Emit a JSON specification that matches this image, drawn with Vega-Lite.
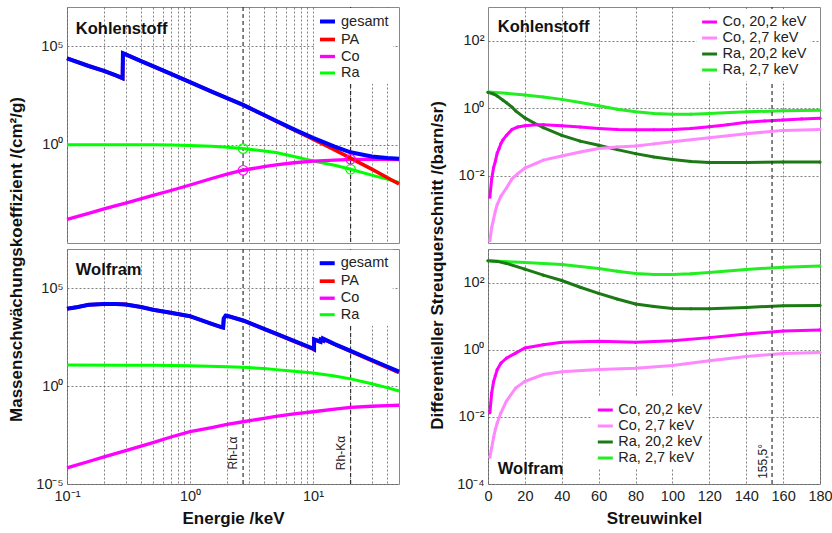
{
"$schema":"https://vega.github.io/schema/vega-lite/v6.json",
"padding":{"left":6,"top":5,"right":0,"bottom":4},
"config":{
 "font":"Liberation Sans",
 "view":{"stroke":"#888888","strokeWidth":1},
 "axis":{"grid":true,"gridColor":"#555555","gridDash":[2,2],"gridOpacity":0.75,"gridWidth":1,"domain":false,"ticks":false,"labelFontSize":14.5,"labelColor":"#222222","labelPadding":5,"labelFlush":false,"labelOverlap":false,"titleFontSize":17,"titleFontWeight":"bold","titleColor":"#111111","titlePadding":8},
 "axisX":{"labelOverlap":false},
 "legend":{"orient":"none","title":null,"symbolType":"stroke","symbolStrokeWidth":3,"symbolSize":225,"labelFontSize":14.5,"labelColor":"#222222","rowPadding":0,"labelOffset":4,"padding":4,"fillColor":"white"}
},
"datasets":{
 "rh":[{"E":2.7,"label":"Rh-Lα"},{"E":20.2,"label":"Rh-Kα"}],
 "ang":[{"t":154,"label":"155,5°"}],
 "carbonMarks":[{"E":2.7,"mu":0.631,"s":"Ra"},{"E":2.7,"mu":0.0501,"s":"Co"},{"E":20.2,"mu":0.056,"s":"Ra"},{"E":20.2,"mu":0.18,"s":"Co"}],
 "carbonMu":[
  {"E":0.1,"mu":1.0,"s":"Ra"},{"E":0.3,"mu":1.0,"s":"Ra"},{"E":0.5,"mu":0.977,"s":"Ra"},{"E":0.7,"mu":0.955,"s":"Ra"},{"E":1,"mu":0.912,"s":"Ra"},{"E":1.5,"mu":0.832,"s":"Ra"},{"E":2,"mu":0.741,"s":"Ra"},{"E":2.7,"mu":0.631,"s":"Ra"},{"E":3,"mu":0.589,"s":"Ra"},{"E":4,"mu":0.479,"s":"Ra"},{"E":5,"mu":0.398,"s":"Ra"},{"E":7,"mu":0.251,"s":"Ra"},{"E":10,"mu":0.148,"s":"Ra"},{"E":15,"mu":0.089,"s":"Ra"},{"E":20.2,"mu":0.056,"s":"Ra"},{"E":30,"mu":0.0282,"s":"Ra"},{"E":40,"mu":0.0178,"s":"Ra"},{"E":50,"mu":0.012,"s":"Ra"},
  {"E":0.1,"mu":0.000158,"s":"Co"},{"E":0.15,"mu":0.000324,"s":"Co"},{"E":0.2,"mu":0.000537,"s":"Co"},{"E":0.25,"mu":0.000794,"s":"Co"},{"E":0.3,"mu":0.00107,"s":"Co"},{"E":0.5,"mu":0.00263,"s":"Co"},{"E":0.7,"mu":0.00468,"s":"Co"},{"E":1,"mu":0.00891,"s":"Co"},{"E":1.5,"mu":0.0191,"s":"Co"},{"E":2,"mu":0.0316,"s":"Co"},{"E":2.7,"mu":0.0501,"s":"Co"},{"E":3,"mu":0.0562,"s":"Co"},{"E":4,"mu":0.0759,"s":"Co"},{"E":5,"mu":0.0933,"s":"Co"},{"E":7,"mu":0.12,"s":"Co"},{"E":10,"mu":0.145,"s":"Co"},{"E":15,"mu":0.165,"s":"Co"},{"E":20.2,"mu":0.18,"s":"Co"},{"E":30,"mu":0.18,"s":"Co"},{"E":40,"mu":0.178,"s":"Co"},{"E":50,"mu":0.176,"s":"Co"},
  {"E":0.1,"mu":24500,"s":"PA"},{"E":0.15,"mu":10000,"s":"PA"},{"E":0.2,"mu":5620,"s":"PA"},{"E":0.25,"mu":3310,"s":"PA"},{"E":0.283,"mu":2400,"s":"PA"},{"E":0.285,"mu":44700,"s":"PA"},{"E":0.3,"mu":38900,"s":"PA"},{"E":0.4,"mu":17800,"s":"PA"},{"E":0.5,"mu":9770,"s":"PA"},{"E":0.7,"mu":3980,"s":"PA"},{"E":1,"mu":1510,"s":"PA"},{"E":1.5,"mu":501,"s":"PA"},{"E":2,"mu":234,"s":"PA"},{"E":2.7,"mu":105,"s":"PA"},{"E":3,"mu":75.9,"s":"PA"},{"E":4,"mu":31.6,"s":"PA"},{"E":5,"mu":15.8,"s":"PA"},{"E":7,"mu":5.62,"s":"PA"},{"E":10,"mu":1.91,"s":"PA"},{"E":15,"mu":0.55,"s":"PA"},{"E":20.2,"mu":0.209,"s":"PA"},{"E":30,"mu":0.0575,"s":"PA"},{"E":40,"mu":0.0214,"s":"PA"},{"E":50,"mu":0.01,"s":"PA"},
  {"E":0.1,"mu":24500,"s":"gesamt"},{"E":0.15,"mu":10000,"s":"gesamt"},{"E":0.2,"mu":5620,"s":"gesamt"},{"E":0.25,"mu":3310,"s":"gesamt"},{"E":0.283,"mu":2400,"s":"gesamt"},{"E":0.285,"mu":44700,"s":"gesamt"},{"E":0.3,"mu":38900,"s":"gesamt"},{"E":0.4,"mu":17800,"s":"gesamt"},{"E":0.5,"mu":9770,"s":"gesamt"},{"E":0.7,"mu":3980,"s":"gesamt"},{"E":1,"mu":1510,"s":"gesamt"},{"E":1.5,"mu":502,"s":"gesamt"},{"E":2,"mu":235,"s":"gesamt"},{"E":2.7,"mu":105.7,"s":"gesamt"},{"E":3,"mu":76.6,"s":"gesamt"},{"E":4,"mu":32.2,"s":"gesamt"},{"E":5,"mu":16.3,"s":"gesamt"},{"E":7,"mu":6.0,"s":"gesamt"},{"E":10,"mu":2.2,"s":"gesamt"},{"E":15,"mu":0.79,"s":"gesamt"},{"E":20.2,"mu":0.41,"s":"gesamt"},{"E":30,"mu":0.25,"s":"gesamt"},{"E":40,"mu":0.21,"s":"gesamt"},{"E":50,"mu":0.19,"s":"gesamt"}
 ],
 "tungstenMu":[
  {"E":0.1,"mu":12.0,"s":"Ra"},{"E":0.3,"mu":11.7,"s":"Ra"},{"E":0.5,"mu":11.5,"s":"Ra"},{"E":1,"mu":11.0,"s":"Ra"},{"E":2,"mu":9.77,"s":"Ra"},{"E":2.7,"mu":9.12,"s":"Ra"},{"E":4,"mu":7.94,"s":"Ra"},{"E":5,"mu":6.92,"s":"Ra"},{"E":7,"mu":5.75,"s":"Ra"},{"E":10,"mu":4.68,"s":"Ra"},{"E":15,"mu":3.31,"s":"Ra"},{"E":20.2,"mu":2.34,"s":"Ra"},{"E":30,"mu":1.32,"s":"Ra"},{"E":40,"mu":0.83,"s":"Ra"},{"E":50,"mu":0.56,"s":"Ra"},
  {"E":0.1,"mu":0.000066,"s":"Co"},{"E":0.15,"mu":0.000141,"s":"Co"},{"E":0.2,"mu":0.00024,"s":"Co"},{"E":0.3,"mu":0.000501,"s":"Co"},{"E":0.5,"mu":0.00129,"s":"Co"},{"E":0.7,"mu":0.00251,"s":"Co"},{"E":1,"mu":0.00468,"s":"Co"},{"E":1.5,"mu":0.0076,"s":"Co"},{"E":2,"mu":0.011,"s":"Co"},{"E":2.7,"mu":0.0151,"s":"Co"},{"E":4,"mu":0.0224,"s":"Co"},{"E":5,"mu":0.0282,"s":"Co"},{"E":7,"mu":0.038,"s":"Co"},{"E":10,"mu":0.049,"s":"Co"},{"E":15,"mu":0.066,"s":"Co"},{"E":20.2,"mu":0.081,"s":"Co"},{"E":30,"mu":0.093,"s":"Co"},{"E":40,"mu":0.1,"s":"Co"},{"E":50,"mu":0.105,"s":"Co"},
  {"E":0.1,"mu":8900,"s":"PA"},{"E":0.12,"mu":10700,"s":"PA"},{"E":0.15,"mu":14110,"s":"PA"},{"E":0.2,"mu":15470,"s":"PA"},{"E":0.25,"mu":15470,"s":"PA"},{"E":0.3,"mu":14780,"s":"PA"},{"E":0.4,"mu":10950,"s":"PA"},{"E":0.5,"mu":7930,"s":"PA"},{"E":0.7,"mu":5480,"s":"PA"},{"E":1,"mu":3700,"s":"PA"},{"E":1.5,"mu":1500,"s":"PA"},{"E":1.8,"mu":1013,"s":"PA"},{"E":1.86,"mu":967,"s":"PA"},{"E":1.88,"mu":2808,"s":"PA"},{"E":1.95,"mu":3970,"s":"PA"},{"E":2,"mu":3880,"s":"PA"},{"E":2.7,"mu":2230,"s":"PA"},{"E":3,"mu":1729,"s":"PA"},{"E":4,"mu":824,"s":"PA"},{"E":5,"mu":467,"s":"PA"},{"E":7,"mu":195,"s":"PA"},{"E":10,"mu":77.6,"s":"PA"},{"E":10.2,"mu":72.4,"s":"PA"},{"E":10.21,"mu":234,"s":"PA"},{"E":11.5,"mu":178,"s":"PA"},{"E":11.55,"mu":229,"s":"PA"},{"E":12.1,"mu":204,"s":"PA"},{"E":12.11,"mu":251,"s":"PA"},{"E":15,"mu":135,"s":"PA"},{"E":20.2,"mu":60.3,"s":"PA"},{"E":30,"mu":20,"s":"PA"},{"E":40,"mu":9.1,"s":"PA"},{"E":50,"mu":4.84,"s":"PA"},
  {"E":0.1,"mu":8913,"s":"gesamt"},{"E":0.12,"mu":10715,"s":"gesamt"},{"E":0.15,"mu":14125,"s":"gesamt"},{"E":0.2,"mu":15488,"s":"gesamt"},{"E":0.25,"mu":15488,"s":"gesamt"},{"E":0.3,"mu":14791,"s":"gesamt"},{"E":0.4,"mu":10965,"s":"gesamt"},{"E":0.5,"mu":7943,"s":"gesamt"},{"E":0.7,"mu":5495,"s":"gesamt"},{"E":1,"mu":3715,"s":"gesamt"},{"E":1.5,"mu":1514,"s":"gesamt"},{"E":1.8,"mu":1023,"s":"gesamt"},{"E":1.86,"mu":977,"s":"gesamt"},{"E":1.88,"mu":2818,"s":"gesamt"},{"E":1.95,"mu":3981,"s":"gesamt"},{"E":2,"mu":3890,"s":"gesamt"},{"E":2.7,"mu":2239,"s":"gesamt"},{"E":3,"mu":1738,"s":"gesamt"},{"E":4,"mu":832,"s":"gesamt"},{"E":5,"mu":479,"s":"gesamt"},{"E":7,"mu":204,"s":"gesamt"},{"E":10,"mu":83.2,"s":"gesamt"},{"E":10.2,"mu":77.6,"s":"gesamt"},{"E":10.21,"mu":245,"s":"gesamt"},{"E":11.5,"mu":186,"s":"gesamt"},{"E":11.55,"mu":240,"s":"gesamt"},{"E":12.1,"mu":214,"s":"gesamt"},{"E":12.11,"mu":263,"s":"gesamt"},{"E":15,"mu":138,"s":"gesamt"},{"E":20.2,"mu":63.1,"s":"gesamt"},{"E":30,"mu":21.4,"s":"gesamt"},{"E":40,"mu":10,"s":"gesamt"},{"E":50,"mu":5.5,"s":"gesamt"}
 ],
 "carbonDcs":[
  {"t":0,"v":3.02,"s":"Ra, 2,7 keV"},{"t":10,"v":2.75,"s":"Ra, 2,7 keV"},{"t":20,"v":2.455,"s":"Ra, 2,7 keV"},{"t":30,"v":2.138,"s":"Ra, 2,7 keV"},{"t":40,"v":1.82,"s":"Ra, 2,7 keV"},{"t":50,"v":1.479,"s":"Ra, 2,7 keV"},{"t":60,"v":1.175,"s":"Ra, 2,7 keV"},{"t":70,"v":0.933,"s":"Ra, 2,7 keV"},{"t":80,"v":0.776,"s":"Ra, 2,7 keV"},{"t":90,"v":0.692,"s":"Ra, 2,7 keV"},{"t":100,"v":0.661,"s":"Ra, 2,7 keV"},{"t":110,"v":0.661,"s":"Ra, 2,7 keV"},{"t":120,"v":0.692,"s":"Ra, 2,7 keV"},{"t":140,"v":0.776,"s":"Ra, 2,7 keV"},{"t":160,"v":0.832,"s":"Ra, 2,7 keV"},{"t":180,"v":0.871,"s":"Ra, 2,7 keV"},
  {"t":0,"v":2.95,"s":"Ra, 20,2 keV"},{"t":3,"v":2.63,"s":"Ra, 20,2 keV"},{"t":5,"v":2.29,"s":"Ra, 20,2 keV"},{"t":8,"v":1.738,"s":"Ra, 20,2 keV"},{"t":10,"v":1.445,"s":"Ra, 20,2 keV"},{"t":13,"v":1.072,"s":"Ra, 20,2 keV"},{"t":15,"v":0.832,"s":"Ra, 20,2 keV"},{"t":20,"v":0.513,"s":"Ra, 20,2 keV"},{"t":25,"v":0.363,"s":"Ra, 20,2 keV"},{"t":30,"v":0.263,"s":"Ra, 20,2 keV"},{"t":40,"v":0.155,"s":"Ra, 20,2 keV"},{"t":50,"v":0.105,"s":"Ra, 20,2 keV"},{"t":60,"v":0.0794,"s":"Ra, 20,2 keV"},{"t":70,"v":0.0589,"s":"Ra, 20,2 keV"},{"t":80,"v":0.0447,"s":"Ra, 20,2 keV"},{"t":90,"v":0.0355,"s":"Ra, 20,2 keV"},{"t":100,"v":0.0302,"s":"Ra, 20,2 keV"},{"t":110,"v":0.0263,"s":"Ra, 20,2 keV"},{"t":120,"v":0.0245,"s":"Ra, 20,2 keV"},{"t":140,"v":0.0245,"s":"Ra, 20,2 keV"},{"t":160,"v":0.0251,"s":"Ra, 20,2 keV"},{"t":180,"v":0.0251,"s":"Ra, 20,2 keV"},
  {"t":1,"v":0.000117,"s":"Co, 2,7 keV"},{"t":2,"v":0.000288,"s":"Co, 2,7 keV"},{"t":3,"v":0.000501,"s":"Co, 2,7 keV"},{"t":4,"v":0.000891,"s":"Co, 2,7 keV"},{"t":5,"v":0.00138,"s":"Co, 2,7 keV"},{"t":7,"v":0.00245,"s":"Co, 2,7 keV"},{"t":10,"v":0.00427,"s":"Co, 2,7 keV"},{"t":13,"v":0.00794,"s":"Co, 2,7 keV"},{"t":16,"v":0.0112,"s":"Co, 2,7 keV"},{"t":20,"v":0.0166,"s":"Co, 2,7 keV"},{"t":26,"v":0.0229,"s":"Co, 2,7 keV"},{"t":30,"v":0.0288,"s":"Co, 2,7 keV"},{"t":40,"v":0.038,"s":"Co, 2,7 keV"},{"t":50,"v":0.0501,"s":"Co, 2,7 keV"},{"t":60,"v":0.0631,"s":"Co, 2,7 keV"},{"t":70,"v":0.0708,"s":"Co, 2,7 keV"},{"t":80,"v":0.0759,"s":"Co, 2,7 keV"},{"t":90,"v":0.0871,"s":"Co, 2,7 keV"},{"t":100,"v":0.1,"s":"Co, 2,7 keV"},{"t":120,"v":0.132,"s":"Co, 2,7 keV"},{"t":140,"v":0.174,"s":"Co, 2,7 keV"},{"t":160,"v":0.219,"s":"Co, 2,7 keV"},{"t":180,"v":0.234,"s":"Co, 2,7 keV"},
  {"t":1,"v":0.00229,"s":"Co, 20,2 keV"},{"t":2,"v":0.00794,"s":"Co, 20,2 keV"},{"t":3,"v":0.017,"s":"Co, 20,2 keV"},{"t":4,"v":0.0269,"s":"Co, 20,2 keV"},{"t":5,"v":0.0468,"s":"Co, 20,2 keV"},{"t":6,"v":0.0631,"s":"Co, 20,2 keV"},{"t":7,"v":0.0891,"s":"Co, 20,2 keV"},{"t":8,"v":0.112,"s":"Co, 20,2 keV"},{"t":10,"v":0.155,"s":"Co, 20,2 keV"},{"t":13,"v":0.234,"s":"Co, 20,2 keV"},{"t":16,"v":0.275,"s":"Co, 20,2 keV"},{"t":20,"v":0.302,"s":"Co, 20,2 keV"},{"t":26,"v":0.324,"s":"Co, 20,2 keV"},{"t":30,"v":0.324,"s":"Co, 20,2 keV"},{"t":40,"v":0.302,"s":"Co, 20,2 keV"},{"t":50,"v":0.275,"s":"Co, 20,2 keV"},{"t":60,"v":0.251,"s":"Co, 20,2 keV"},{"t":70,"v":0.234,"s":"Co, 20,2 keV"},{"t":80,"v":0.229,"s":"Co, 20,2 keV"},{"t":90,"v":0.229,"s":"Co, 20,2 keV"},{"t":100,"v":0.234,"s":"Co, 20,2 keV"},{"t":110,"v":0.251,"s":"Co, 20,2 keV"},{"t":120,"v":0.282,"s":"Co, 20,2 keV"},{"t":130,"v":0.324,"s":"Co, 20,2 keV"},{"t":140,"v":0.38,"s":"Co, 20,2 keV"},{"t":150,"v":0.417,"s":"Co, 20,2 keV"},{"t":160,"v":0.447,"s":"Co, 20,2 keV"},{"t":170,"v":0.479,"s":"Co, 20,2 keV"},{"t":180,"v":0.501,"s":"Co, 20,2 keV"}
 ],
 "tungstenDcs":[
  {"t":0,"v":447,"s":"Ra, 2,7 keV"},{"t":20,"v":398,"s":"Ra, 2,7 keV"},{"t":40,"v":347,"s":"Ra, 2,7 keV"},{"t":60,"v":263,"s":"Ra, 2,7 keV"},{"t":70,"v":219,"s":"Ra, 2,7 keV"},{"t":80,"v":186,"s":"Ra, 2,7 keV"},{"t":90,"v":174,"s":"Ra, 2,7 keV"},{"t":100,"v":174,"s":"Ra, 2,7 keV"},{"t":110,"v":182,"s":"Ra, 2,7 keV"},{"t":120,"v":200,"s":"Ra, 2,7 keV"},{"t":140,"v":245,"s":"Ra, 2,7 keV"},{"t":160,"v":288,"s":"Ra, 2,7 keV"},{"t":180,"v":309,"s":"Ra, 2,7 keV"},
  {"t":0,"v":447,"s":"Ra, 20,2 keV"},{"t":5,"v":427,"s":"Ra, 20,2 keV"},{"t":10,"v":372,"s":"Ra, 20,2 keV"},{"t":20,"v":251,"s":"Ra, 20,2 keV"},{"t":30,"v":166,"s":"Ra, 20,2 keV"},{"t":40,"v":115,"s":"Ra, 20,2 keV"},{"t":50,"v":72.4,"s":"Ra, 20,2 keV"},{"t":60,"v":47.9,"s":"Ra, 20,2 keV"},{"t":70,"v":32.4,"s":"Ra, 20,2 keV"},{"t":80,"v":22.9,"s":"Ra, 20,2 keV"},{"t":90,"v":19.5,"s":"Ra, 20,2 keV"},{"t":100,"v":17.0,"s":"Ra, 20,2 keV"},{"t":110,"v":16.6,"s":"Ra, 20,2 keV"},{"t":120,"v":16.6,"s":"Ra, 20,2 keV"},{"t":140,"v":18.2,"s":"Ra, 20,2 keV"},{"t":160,"v":20.4,"s":"Ra, 20,2 keV"},{"t":180,"v":20.9,"s":"Ra, 20,2 keV"},
  {"t":1,"v":0.000631,"s":"Co, 2,7 keV"},{"t":2,"v":0.0012,"s":"Co, 2,7 keV"},{"t":3,"v":0.0024,"s":"Co, 2,7 keV"},{"t":4,"v":0.00427,"s":"Co, 2,7 keV"},{"t":5,"v":0.00661,"s":"Co, 2,7 keV"},{"t":7,"v":0.0132,"s":"Co, 2,7 keV"},{"t":10,"v":0.0295,"s":"Co, 2,7 keV"},{"t":15,"v":0.0724,"s":"Co, 2,7 keV"},{"t":20,"v":0.115,"s":"Co, 2,7 keV"},{"t":30,"v":0.182,"s":"Co, 2,7 keV"},{"t":40,"v":0.219,"s":"Co, 2,7 keV"},{"t":60,"v":0.257,"s":"Co, 2,7 keV"},{"t":80,"v":0.282,"s":"Co, 2,7 keV"},{"t":100,"v":0.339,"s":"Co, 2,7 keV"},{"t":120,"v":0.468,"s":"Co, 2,7 keV"},{"t":140,"v":0.631,"s":"Co, 2,7 keV"},{"t":160,"v":0.776,"s":"Co, 2,7 keV"},{"t":180,"v":0.832,"s":"Co, 2,7 keV"},
  {"t":1,"v":0.0132,"s":"Co, 20,2 keV"},{"t":2,"v":0.0513,"s":"Co, 20,2 keV"},{"t":3,"v":0.11,"s":"Co, 20,2 keV"},{"t":4,"v":0.17,"s":"Co, 20,2 keV"},{"t":5,"v":0.257,"s":"Co, 20,2 keV"},{"t":7,"v":0.398,"s":"Co, 20,2 keV"},{"t":10,"v":0.562,"s":"Co, 20,2 keV"},{"t":15,"v":0.794,"s":"Co, 20,2 keV"},{"t":20,"v":1.122,"s":"Co, 20,2 keV"},{"t":30,"v":1.413,"s":"Co, 20,2 keV"},{"t":40,"v":1.66,"s":"Co, 20,2 keV"},{"t":60,"v":1.778,"s":"Co, 20,2 keV"},{"t":80,"v":1.66,"s":"Co, 20,2 keV"},{"t":100,"v":1.862,"s":"Co, 20,2 keV"},{"t":120,"v":2.291,"s":"Co, 20,2 keV"},{"t":140,"v":2.951,"s":"Co, 20,2 keV"},{"t":160,"v":3.631,"s":"Co, 20,2 keV"},{"t":180,"v":3.89,"s":"Co, 20,2 keV"}
 ]
},
"columns":2,
"spacing":{"row":6,"column":89},
"bounds":"flush",
"resolve":{"scale":{"x":"independent","y":"independent","color":"independent","strokeWidth":"independent"},"legend":{"color":"independent"}},
"concat":[
 {"width":332,"height":236,"layer":[
  {"data":{"name":"rh"},"mark":{"type":"rule","color":"#333333","strokeDash":[4,3],"strokeWidth":1.2},"encoding":{"x":{"field":"E","type":"quantitative","axis":{"values":[0.1,0.2,0.3,0.4,0.5,0.6,0.7,0.8,0.9,1,2,3,4,5,6,7,8,9,10,20,30,40],"labels":false,"title":null}}}},
  {"data":{"name":"carbonMu"},"mark":{"type":"line"},"encoding":{
    "x":{"field":"E","type":"quantitative","scale":{"type":"log","domain":[0.1,50],"nice":false},"axis":{"values":[0.1,0.2,0.3,0.4,0.5,0.6,0.7,0.8,0.9,1,2,3,4,5,6,7,8,9,10,20,30,40],"labels":false,"title":null}},
    "y":{"field":"mu","type":"quantitative","scale":{"type":"log","domain":[0.00001,10000000],"nice":false},"axis":{"values":[1,100000],"labelExpr":"datum.value == 1 ? '10⁰' : datum.value == 100000 ? '10⁵' : '10⁻⁵'","labelPadding":4,"title":"Massenschwächungskoeffizient /(cm²/g)","titleX":-59,"titleY":252,"titleBaseline":"top","titleAlign":"center","titleAngle":270}},
    "color":{"field":"s","type":"nominal","scale":{"domain":["gesamt","PA","Co","Ra"],"range":["#0000ff","#ff0000","#ff00ff","#00ff00"]},"legend":{"legendX":247,"legendY":1}},
    "strokeWidth":{"field":"s","type":"nominal","scale":{"domain":["gesamt","PA","Co","Ra"],"range":[4,3,3,3]},"legend":null}}},
  {"data":{"name":"carbonMarks"},"mark":{"type":"point","filled":false,"size":90,"strokeWidth":1.2,"opacity":1},"encoding":{"x":{"field":"E","type":"quantitative","axis":{"values":[0.1,0.2,0.3,0.4,0.5,0.6,0.7,0.8,0.9,1,2,3,4,5,6,7,8,9,10,20,30,40],"labels":false,"title":null}},"y":{"field":"mu","type":"quantitative","axis":{"values":[1,100000],"labelExpr":"datum.value == 1 ? '10⁰' : datum.value == 100000 ? '10⁵' : '10⁻⁵'","labelPadding":4,"title":"Massenschwächungskoeffizient /(cm²/g)","titleX":-59,"titleY":252,"titleBaseline":"top","titleAlign":"center","titleAngle":270}},"color":{"field":"s","type":"nominal"}}},
  {"data":{"values":[{}]},"mark":{"type":"text","text":"Kohlenstoff","align":"left","baseline":"middle","fontSize":16.5,"fontWeight":"bold","color":"#111111"},"encoding":{"x":{"datum":0.118},"y":{"datum":800000}}}
 ]},
 {"width":332,"height":236,"layer":[
  {"data":{"name":"carbonDcs"},"mark":{"type":"line","strokeWidth":3,"point":{"filled":true,"size":10}},"encoding":{
    "x":{"field":"t","type":"quantitative","scale":{"domain":[0,180],"nice":false,"zero":false},"axis":{"values":[20,40,60,80,100,120,140,160],"tickCount":9,"labels":false,"title":null}},
    "y":{"field":"v","type":"quantitative","scale":{"type":"log","domain":[0.0001,1000],"nice":false},"axis":{"values":[0.01,1,100],"labelExpr":"datum.value == 100 ? '10²' : datum.value == 1 ? '10⁰' : datum.value == 0.01 ? '10⁻²' : '10⁻⁴'","labelPadding":4,"title":"Differentieller Streuquerschnitt /(barn/sr)","titleX":-59,"titleY":258,"titleBaseline":"top","titleAlign":"center","titleAngle":270}},
    "color":{"field":"s","type":"nominal","scale":{"domain":["Co, 20,2 keV","Co, 2,7 keV","Ra, 20,2 keV","Ra, 2,7 keV"],"range":["#ff00ff","#ff88ff","#1c7a14","#22ee22"]},"legend":{"legendX":208.6,"legendY":2}}}},
  {"data":{"name":"ang"},"mark":{"type":"rule","color":"#333333","strokeDash":[4,3],"strokeWidth":1.2},"encoding":{"x":{"field":"t","type":"quantitative"}}},
  {"data":{"values":[{}]},"mark":{"type":"text","text":"Kohlenstoff","align":"left","baseline":"middle","fontSize":16.5,"fontWeight":"bold","color":"#111111"},"encoding":{"x":{"datum":5.3},"y":{"datum":247}}}
 ]},
 {"width":332,"height":235,"layer":[
  {"data":{"name":"rh"},"mark":{"type":"rule","color":"#333333","strokeDash":[4,3],"strokeWidth":1.2},"encoding":{"x":{"field":"E","type":"quantitative","axis":{"values":[0.1,0.2,0.3,0.4,0.5,0.6,0.7,0.8,0.9,1,2,3,4,5,6,7,8,9,10,20,30,40],"labelExpr":"datum.value == 0.1 ? '10⁻¹' : datum.value == 1 ? '10⁰' : datum.value == 10 ? '10¹' : ''","title":"Energie /keV"}}}},
  {"data":{"name":"tungstenMu"},"mark":{"type":"line"},"encoding":{
    "x":{"field":"E","type":"quantitative","scale":{"type":"log","domain":[0.1,50],"nice":false},"axis":{"values":[0.1,0.2,0.3,0.4,0.5,0.6,0.7,0.8,0.9,1,2,3,4,5,6,7,8,9,10,20,30,40],"labelExpr":"datum.value == 0.1 ? '10⁻¹' : datum.value == 1 ? '10⁰' : datum.value == 10 ? '10¹' : ''","title":"Energie /keV"}},
    "y":{"field":"mu","type":"quantitative","scale":{"type":"log","domain":[0.00001,10000000],"nice":false},"axis":{"values":[0.00001,1,100000],"labelExpr":"datum.value == 1 ? '10⁰' : datum.value == 100000 ? '10⁵' : '10⁻⁵'","labelPadding":4,"title":null}},
    "color":{"field":"s","type":"nominal","scale":{"domain":["gesamt","PA","Co","Ra"],"range":["#0000ff","#ff0000","#ff00ff","#00ff00"]},"legend":{"legendX":246.7,"legendY":0.7}},
    "strokeWidth":{"field":"s","type":"nominal","scale":{"domain":["gesamt","PA","Co","Ra"],"range":[4,3,3,3]},"legend":null}}},
  {"data":{"name":"rh"},"mark":{"type":"text","angle":270,"align":"center","baseline":"bottom","dy":-3,"fontSize":12,"color":"#222222"},"encoding":{"x":{"field":"E","type":"quantitative","axis":{"values":[0.1,0.2,0.3,0.4,0.5,0.6,0.7,0.8,0.9,1,2,3,4,5,6,7,8,9,10,20,30,40],"labelExpr":"datum.value == 0.1 ? '10⁻¹' : datum.value == 1 ? '10⁰' : datum.value == 10 ? '10¹' : ''","title":"Energie /keV"}},"y":{"datum":0.00038},"text":{"field":"label"}}},
  {"data":{"values":[{}]},"mark":{"type":"text","text":"Wolfram","align":"left","baseline":"middle","fontSize":16.5,"fontWeight":"bold","color":"#111111"},"encoding":{"x":{"datum":0.118},"y":{"datum":800000}}}
 ]},
 {"width":332,"height":235,"layer":[
  {"data":{"name":"tungstenDcs"},"mark":{"type":"line","strokeWidth":3,"point":{"filled":true,"size":10}},"encoding":{
    "x":{"field":"t","type":"quantitative","scale":{"domain":[0,180],"nice":false,"zero":false},"axis":{"values":[0,20,40,60,80,100,120,140,160,180],"tickCount":10,"labelOverlap":false,"title":"Streuwinkel"}},
    "y":{"field":"v","type":"quantitative","scale":{"type":"log","domain":[0.0001,1000],"nice":false},"axis":{"values":[0.0001,0.01,1,100],"labelExpr":"datum.value == 100 ? '10²' : datum.value == 1 ? '10⁰' : datum.value == 0.01 ? '10⁻²' : '10⁻⁴'","labelPadding":4,"title":null}},
    "color":{"field":"s","type":"nominal","scale":{"domain":["Co, 20,2 keV","Co, 2,7 keV","Ra, 20,2 keV","Ra, 2,7 keV"],"range":["#ff00ff","#ff88ff","#1c7a14","#22ee22"]},"legend":{"legendX":104.3,"legendY":148}}}},
  {"data":{"name":"ang"},"mark":{"type":"rule","color":"#333333","strokeDash":[4,3],"strokeWidth":1.2},"encoding":{"x":{"field":"t","type":"quantitative"}}},
  {"data":{"name":"ang"},"mark":{"type":"text","angle":270,"align":"center","baseline":"bottom","dy":-2,"fontSize":12,"color":"#222222"},"encoding":{"x":{"field":"t","type":"quantitative"},"y":{"datum":0.00047},"text":{"field":"label"}}},
  {"data":{"values":[{}]},"mark":{"type":"text","text":"Wolfram","align":"left","baseline":"middle","fontSize":16.5,"fontWeight":"bold","color":"#111111"},"encoding":{"x":{"datum":5.3},"y":{"datum":0.000275}}}
 ]}
]
}
